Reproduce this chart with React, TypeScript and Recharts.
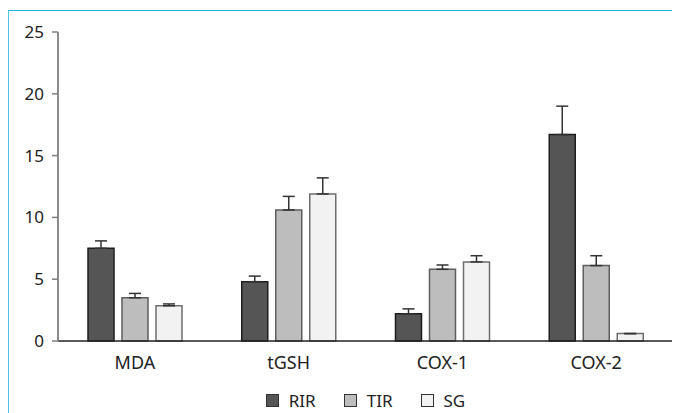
import { BarChart, Bar, XAxis, YAxis, ErrorBar, Legend } from "recharts";

const categories = ["MDA", "tGSH", "COX-1", "COX-2"];
const rir = [7.5, 4.8, 2.2, 16.7];
const rirErr = [0.6, 0.45, 0.4, 2.3];
const tir = [3.5, 10.6, 5.8, 6.1];
const tirErr = [0.35, 1.1, 0.35, 0.8];
const sg = [2.85, 11.9, 6.4, 0.6];
const sgErr = [0.15, 1.3, 0.5, 0];
const yTicks = [0, 5, 10, 15, 20, 25];

const data = categories.map((name, i) => ({
  name,
  RIR: rir[i],
  TIR: tir[i],
  SG: sg[i],
  rirErr: [0, rirErr[i]],
  tirErr: [0, tirErr[i]],
  sgErr: [0, sgErr[i]],
}));

const series = [
  { key: "RIR", fill: "#555555", stroke: "#1e1e1e" },
  { key: "TIR", fill: "#bdbdbd", stroke: "#5e5e5e" },
  { key: "SG", fill: "#f2f2f2", stroke: "#6e6e6e" },
];

function LegendBox() {
  return (
    <div
      style={{
        height: 40,
        paddingTop: 16,
        boxSizing: "border-box",
        display: "flex",
        justifyContent: "center",
        fontSize: 17,
        color: "#222",
      }}
    >
      {series.map((s, i) => (
        <div
          key={s.key}
          style={{
            display: "flex",
            alignItems: "center",
            height: 22,
            marginLeft: i === 0 ? 0 : 28,
          }}
        >
          <span
            style={{
              width: 11,
              height: 11,
              background: s.fill,
              border: "1.5px solid #333",
              marginRight: 10,
              display: "inline-block",
            }}
          />
          <span>{s.key}</span>
        </div>
      ))}
    </div>
  );
}

export default function App() {
  return (
    <div
      style={{
        width: 671,
        height: 402,
        marginTop: 2,
        borderTop: "1px solid #22b4e4",
        borderLeft: "1px solid #4fc4e8",
        fontFamily: "'Noto Sans', sans-serif",
      }}
    >
      <BarChart
        width={671}
        height={402}
        data={data}
        margin={{ top: 21, right: 7, left: 0, bottom: 0 }}
        barSize={26}
        barGap={8}
      >
        <XAxis
          dataKey="name"
          height={32}
          tickLine={false}
          tickSize={0}
          tickMargin={15}
          axisLine={{ stroke: "#222", strokeWidth: 1.5 }}
          tick={{ fill: "#222", fontSize: 18 }}
        />
        <YAxis
          width={49}
          domain={[0, 25]}
          ticks={yTicks}
          interval={0}
          tickSize={6}
          tickMargin={8}
          axisLine={{ stroke: "#808080", strokeWidth: 1.8 }}
          tickLine={{ stroke: "#808080", strokeWidth: 1.5 }}
          tick={{ fill: "#222", fontSize: 17 }}
        />
        <Legend
          verticalAlign="bottom"
          content={<LegendBox />}
          wrapperStyle={{ left: 49, width: 615, bottom: 0 }}
        />
        {series.map((s) => (
          <Bar
            key={s.key}
            dataKey={s.key}
            fill={s.fill}
            stroke={s.stroke}
            strokeWidth={1.5}
            isAnimationActive={false}
          >
            <ErrorBar
              dataKey={s.key.toLowerCase() + "Err"}
              direction="y"
              width={6}
              stroke="#333"
              strokeWidth={1.5}
            />
          </Bar>
        ))}
      </BarChart>
    </div>
  );
}
